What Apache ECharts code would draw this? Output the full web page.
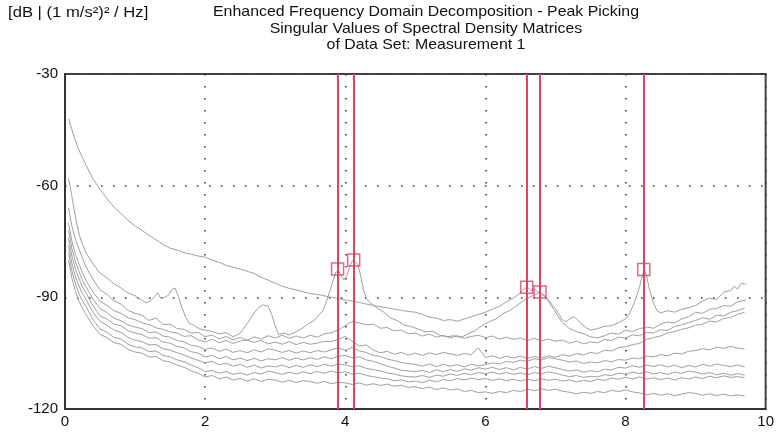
<!DOCTYPE html>
<html>
<head>
<meta charset="utf-8">
<script src="https://cdn.jsdelivr.net/npm/echarts@6/dist/echarts.min.js"></script>
<style>
html,body{margin:0;padding:0;background:#fff;}
#c{width:777px;height:434px;}
</style>
</head>
<body>
<div id="c"></div>
<script>
// ---------- DATA ----------
const titleLines = ["Enhanced Frequency Domain Decomposition - Peak Picking","Singular Values of Spectral Density Matrices","of Data Set: Measurement 1"];
const unitLabel = "[dB | (1 m/s\u00B2)\u00B2 / Hz]";
const xTicks = [0,2,4,6,8,10];
const yTicks = [-120,-90,-60,-30];

// picked peaks [Hz, dB]
const peakFreqs = [3.89, 4.12, 6.59, 6.78, 8.26];
const peakValues = [-82.4, -80.0, -87.3, -88.6, -82.5];

// shared frequency grid for the lower singular values
const freq = [0.05,0.1,0.15,0.2,0.25,0.3,0.4,0.5,0.6,0.7,0.8,0.9,1.0,1.1,1.2,1.3,1.4,1.5,1.6,1.7,1.8,1.9,2.0,2.1,2.2,2.3,2.4,2.5,2.6,2.7,2.8,2.9,3.0,3.1,3.2,3.3,3.4,3.5,3.6,3.7,3.8,3.9,4.0,4.1,4.2,4.3,4.4,4.5,4.6,4.7,4.8,4.9,5.0,5.1,5.2,5.3,5.4,5.5,5.6,5.7,5.8,5.9,6.0,6.1,6.2,6.3,6.4,6.5,6.6,6.7,6.8,6.9,7.0,7.1,7.2,7.3,7.4,7.5,7.6,7.7,7.8,7.9,8.0,8.1,8.2,8.3,8.4,8.5,8.6,8.7,8.8,8.9,9.0,9.1,9.2,9.3,9.4,9.5,9.6,9.7];

// first two singular values, [Hz, dB]
const svA = [[0.05,-42],[0.1,-45],[0.15,-48],[0.2,-50.5],[0.25,-52.5],[0.3,-54.5],[0.4,-58.2],[0.5,-61],[0.6,-63.5],[0.7,-65.8],[0.8,-67.5],[0.9,-69.3],[1.0,-70.8],[1.1,-72],[1.2,-73.4],[1.3,-74.5],[1.4,-75.8],[1.5,-76.8],[1.6,-77.3],[1.7,-78],[1.8,-78.4],[1.9,-78.9],[2.0,-79.2],[2.1,-80],[2.2,-80.6],[2.3,-81.4],[2.4,-81.9],[2.5,-82.4],[2.6,-83],[2.7,-83.6],[2.8,-84.6],[2.9,-85.4],[3.0,-86.2],[3.1,-87],[3.2,-87.6],[3.3,-88],[3.4,-88.5],[3.5,-89],[3.6,-89.2],[3.7,-89.6],[3.8,-90],[3.9,-90.3],[4.0,-90.7],[4.1,-91],[4.2,-91.4],[4.3,-91.8],[4.4,-92.2],[4.5,-92.5],[4.6,-92.8],[4.7,-93.2],[4.8,-93.5],[4.9,-93.8],[5.0,-94],[5.1,-94.6],[5.2,-95.3],[5.3,-95.6],[5.4,-96.2],[5.5,-96],[5.6,-96.4],[5.7,-95.8],[5.8,-95.2],[5.9,-94.6],[6.0,-94],[6.1,-93.2],[6.2,-92.4],[6.3,-91.2],[6.4,-90.2],[6.5,-88.8],[6.55,-87.8],[6.6,-87.3],[6.65,-88.2],[6.7,-87.8],[6.75,-88.6],[6.8,-89.2],[6.88,-90.2],[6.95,-92],[7.0,-93],[7.05,-94.5],[7.1,-96],[7.15,-96.6],[7.2,-95.8],[7.27,-95.2],[7.35,-96.8],[7.45,-98.3],[7.5,-98.8],[7.6,-98.4],[7.7,-97.8],[7.8,-97.6],[7.9,-96.8],[8.0,-95.8],[8.05,-94.6],[8.1,-92.6],[8.15,-90.2],[8.2,-87.2],[8.24,-84],[8.27,-82.6],[8.3,-84.2],[8.34,-87.8],[8.4,-91.6],[8.45,-93.6],[8.5,-94.2],[8.6,-93.6],[8.7,-94],[8.8,-93.2],[8.9,-92.8],[9.0,-92.2],[9.1,-91],[9.2,-90.2],[9.3,-90.6],[9.4,-88.6],[9.5,-88.2],[9.55,-87],[9.6,-87.8],[9.65,-86.2],[9.7,-86.5],[9.72,-86.2]];

const svB = [[0.05,-58],[0.1,-63],[0.15,-68.5],[0.2,-73],[0.25,-75.8],[0.3,-78],[0.35,-79.5],[0.4,-81],[0.5,-83.5],[0.6,-84.8],[0.7,-86.4],[0.8,-87.5],[0.9,-88.8],[1.0,-89.6],[1.1,-90.8],[1.16,-91.5],[1.22,-90.9],[1.28,-89.8],[1.32,-88.8],[1.37,-90.3],[1.42,-90],[1.48,-89.4],[1.53,-87.8],[1.57,-87.5],[1.62,-89.8],[1.67,-92.8],[1.72,-95.2],[1.77,-96.9],[1.85,-97.6],[1.92,-98.5],[2.0,-98.8],[2.1,-99.2],[2.2,-99.8],[2.3,-99.5],[2.4,-100.6],[2.5,-99.6],[2.58,-97.6],[2.64,-96],[2.7,-94.2],[2.76,-92.8],[2.82,-92],[2.9,-92.4],[2.95,-94.6],[3.0,-97.6],[3.05,-100],[3.12,-99.6],[3.2,-100.1],[3.29,-99.3],[3.38,-98.4],[3.48,-97],[3.56,-96.2],[3.62,-94.8],[3.68,-93.6],[3.73,-91.2],[3.78,-88.4],[3.83,-85.2],[3.87,-83.2],[3.9,-82.8],[3.94,-84],[3.98,-85.4],[4.02,-84.2],[4.06,-82],[4.1,-80.2],[4.14,-80.4],[4.18,-81.2],[4.22,-84.2],[4.26,-88],[4.3,-90.2],[4.35,-91.4],[4.45,-92.8],[4.55,-94],[4.65,-95.6],[4.75,-96.3],[4.85,-97.5],[4.95,-97.9],[5.05,-98.6],[5.15,-99.3],[5.25,-99.1],[5.35,-100.2],[5.45,-100.6],[5.55,-100.3],[5.65,-100.8],[5.75,-99.8],[5.85,-99],[5.95,-97.6],[6.05,-96.6],[6.15,-95.8],[6.25,-94.4],[6.35,-93.5],[6.45,-92.2],[6.55,-90.8],[6.65,-89.8],[6.72,-89.2],[6.78,-88.6],[6.84,-89.4],[6.9,-91],[6.96,-92.8],[7.02,-94.6],[7.1,-96.8],[7.2,-98.4],[7.3,-99.2],[7.4,-99.8],[7.5,-100.6],[7.6,-100.9],[7.7,-100.3],[7.8,-99.6],[7.9,-99.9],[8.0,-98.8],[8.1,-99.2],[8.2,-98.4],[8.3,-98],[8.4,-98.3],[8.5,-97.2],[8.6,-96.6],[8.7,-96.9],[8.8,-95.8],[8.9,-95.2],[9.0,-94],[9.1,-94.3],[9.2,-93.2],[9.3,-93],[9.4,-92.2],[9.5,-92.4],[9.6,-91.2],[9.72,-90.7]];

// remaining singular values on the shared grid (dB)
const svC = [-66,-71,-74.5,-77,-79.5,-81.8,-85.2,-88,-89.2,-91,-91.8,-93.5,-94.3,-94.8,-96.2,-95.6,-97.3,-97.2,-98.4,-98.6,-99.6,-99.4,-100.6,-100.1,-101.2,-100.5,-101.4,-100.8,-101.5,-100.6,-101.2,-100.3,-100.9,-100.2,-101,-100.4,-100.9,-100.2,-100.7,-99.8,-99.5,-98.8,-97.6,-96.5,-96.9,-97.4,-97.2,-98.3,-98.1,-99,-98.8,-99.8,-99.6,-100.4,-99.9,-100.7,-100.2,-100.9,-100.3,-101,-100.5,-100.2,-100.8,-100.4,-101.2,-100.7,-101.3,-100.9,-101.6,-101,-101.7,-101.2,-101.8,-101.5,-102.3,-101.8,-102.5,-102,-102.2,-101.3,-101.6,-100.7,-100.9,-100.1,-100.3,-99.4,-99.6,-98.7,-98.9,-97.8,-97.4,-96.8,-96.2,-95.5,-95.9,-94.8,-95,-94,-93.6,-92.9];
const svD = [-70,-75,-78.5,-81,-83.5,-85.5,-88.6,-91,-92.2,-93.6,-94.3,-95.5,-96,-96.9,-97.3,-98.2,-98.6,-99.3,-99.6,-100.5,-100.3,-101.4,-102,-101.3,-102.2,-101.6,-102.4,-101.7,-101.5,-102.1,-101.6,-102.5,-102,-102.6,-101.9,-102.7,-102.1,-102.6,-102.3,-101.8,-101.9,-101.3,-100.5,-101.8,-103.1,-102.8,-104.2,-104.9,-104.5,-105.3,-104.8,-105.5,-105,-105.6,-104.9,-105.4,-104.8,-105.2,-105.6,-105.1,-105.4,-103.6,-106.2,-105.7,-106.4,-105.8,-106.3,-105.8,-106.4,-105.9,-106.3,-105.7,-106.1,-105.4,-105.8,-105.1,-105.5,-104.8,-105.1,-104.2,-104.4,-103.5,-103.3,-102.7,-102.4,-101.3,-100.8,-100.4,-99.6,-99.2,-98.6,-98.2,-97.5,-97.2,-96.4,-96.6,-95.7,-95.4,-94.6,-94];
const svE = [-72,-77,-80.5,-83,-85.5,-87.2,-90.5,-93,-94.1,-95.6,-96.3,-97.4,-98,-98.4,-99.5,-99.3,-100.4,-100.7,-101.6,-102,-102.9,-103.2,-104,-103.6,-104.5,-103.9,-104.8,-104.3,-104.9,-104.1,-104.7,-103.8,-104.2,-104.8,-104.3,-105,-104.4,-104.9,-104.3,-104.7,-104.1,-103.6,-104.2,-103.4,-104.4,-104.8,-105.6,-105.9,-106.6,-107,-107.5,-107.8,-108,-108.5,-107.9,-108.6,-108,-108.5,-108.1,-108.7,-108,-108.4,-108.1,-107.6,-107.9,-107.2,-107.5,-106.9,-107.2,-106.5,-106.8,-106.2,-106.5,-106.9,-107.4,-107.1,-107.8,-107.4,-107.6,-107,-107.3,-106.7,-106.9,-106.3,-106.5,-105.8,-106,-105.4,-105.7,-105,-105.2,-104.5,-104.3,-103.8,-104.1,-103.4,-103.7,-103.2,-103.6,-103.9];
const svF = [-74,-79,-82.5,-85,-87.2,-88.8,-92.3,-95,-95.8,-97.2,-97.6,-99,-99.6,-100,-101,-100.8,-102,-102.3,-103.2,-103.6,-104.6,-105,-106,-105.6,-106.5,-105.9,-106.8,-106.3,-107,-106.4,-107.1,-106.5,-106.8,-106.2,-106.9,-106.3,-106.8,-106.2,-106.7,-106,-106.5,-105.8,-105.6,-106.2,-106,-106.8,-107.2,-107.8,-108.5,-109,-109.6,-109.8,-110,-109.6,-110.2,-109.5,-110,-109.4,-109.9,-109.2,-109.6,-108.9,-109.3,-108.8,-109.4,-108.9,-109.5,-108.8,-109.3,-108.6,-109.1,-108.5,-108.9,-109.4,-109.8,-109.5,-110.1,-109.7,-110,-109.3,-109.5,-108.8,-109,-108.4,-108.8,-108.2,-108.6,-108.1,-108.7,-108.2,-108.9,-108.3,-108.7,-108,-108.5,-107.9,-108.3,-108.6,-108.2,-108.7];
const svG = [-76,-81,-84.5,-87,-89,-90.6,-94,-96.5,-97.5,-98.8,-99.4,-100.8,-101.5,-101.9,-102.8,-102.7,-103.8,-104.2,-104.9,-105.5,-106.3,-106.9,-107.6,-107.2,-108.1,-107.7,-108.5,-108,-108.8,-108.2,-109,-108.4,-108.7,-108.2,-108.9,-108.3,-108.8,-108.1,-108.6,-108,-108.5,-107.9,-108.2,-108.6,-108.4,-109.1,-109.4,-109.8,-110.3,-110.6,-111.1,-111.3,-111.4,-111,-111.5,-110.9,-111.2,-110.6,-111,-110.4,-110.8,-110.2,-110.5,-110.1,-110.6,-110.2,-110.7,-110.3,-110.8,-110.2,-110.6,-110,-110.4,-110.9,-111.3,-111,-111.5,-111.2,-111.4,-110.8,-111,-110.4,-110.6,-110.1,-110.5,-110,-110.6,-110.2,-110.7,-110.1,-110.4,-109.8,-110.1,-110.6,-110.2,-110.8,-110.4,-110.9,-110.5,-110.9];
const svH = [-78,-83,-86.5,-89,-91,-92.5,-96,-98.5,-99.4,-100.8,-101.2,-102.6,-103.3,-103.6,-104.6,-104.4,-105.6,-106,-106.8,-107.3,-108.2,-108.9,-110,-109.6,-110.4,-109.9,-110.7,-110.3,-110.9,-110.2,-110.6,-109.8,-110.2,-110.7,-110.1,-110.6,-110,-110.5,-109.9,-110.4,-109.8,-110.3,-110,-110.6,-110.4,-111,-111.3,-111.7,-111.9,-112.4,-112.2,-112.7,-112.5,-112.9,-112.3,-112.7,-112.1,-112.4,-111.8,-112.2,-111.7,-112.1,-111.8,-112.3,-111.9,-112.4,-112,-112.5,-112,-112.4,-111.9,-112.3,-112,-112.5,-112.2,-112.7,-112.3,-112.6,-112,-112.3,-111.7,-112,-111.5,-111.9,-111.4,-112,-111.6,-112.1,-111.7,-112.2,-111.6,-111.9,-111.4,-111.8,-111.2,-111.6,-111.1,-111.5,-111.3,-111.6];
const svI = [-80,-85,-88.5,-91,-93,-94.6,-97.6,-100,-100.8,-102.2,-102.6,-104,-104.7,-105,-106,-105.9,-107,-107.4,-108.2,-108.8,-109.7,-110.4,-111.4,-111,-111.9,-111.4,-112.2,-111.8,-112.5,-111.9,-112.6,-112,-112.2,-112.8,-112.3,-112.9,-112.4,-112.6,-113.1,-112.6,-113.2,-112.8,-113,-113.4,-113,-113.6,-113.2,-113.7,-113.3,-113.9,-113.6,-114.2,-114,-114.5,-114.1,-114.8,-114.3,-114.9,-114.6,-115.3,-115,-115.6,-115.4,-115.8,-115.3,-115.6,-115,-115.3,-114.7,-115.1,-114.6,-115,-114.7,-115.2,-115.5,-115.9,-115.5,-115.8,-115.3,-115.6,-115,-115.3,-114.9,-115.4,-115.7,-116.2,-115.8,-116.3,-115.9,-116.4,-116,-115.6,-115.8,-116.3,-115.9,-116.4,-116,-116.5,-116.2,-116.5];

// ---------- CHART ----------
const GRAY = '#a0a0a0';
const RED = '#e4405f';
const FONT = 'Liberation Sans, Arial, sans-serif';

function onGrid(vals){ return freq.map((f,i)=>[f, vals[i]]).filter(p=>p[1]!==undefined); }
function lineSeries(data){
  return {type:'line', data:data, showSymbol:false, symbol:'none', silent:true,
    lineStyle:{color:GRAY, width:1}, z:2};
}

const series = [svA, svB, onGrid(svC), onGrid(svD), onGrid(svE), onGrid(svF), onGrid(svG), onGrid(svH), onGrid(svI)].map(lineSeries);

series.push({
  type:'scatter', data: peakFreqs.map((f,i)=>[f, peakValues[i]]),
  symbol:'rect', symbolSize:12, silent:true, z:5,
  itemStyle:{color:'rgba(0,0,0,0)', borderColor:RED, borderWidth:1.5},
  markLine:{silent:true, symbol:'none', animation:false,
    label:{show:false},
    lineStyle:{color:RED, width:2, type:'solid'},
    data: peakFreqs.map(f=>({xAxis:f}))}
});

const chart = echarts.init(document.getElementById('c'), null, {renderer:'canvas'});
chart.setOption({
  animation:false,
  backgroundColor:'#fff',
  textStyle:{fontFamily:FONT},
  graphic:[
    {type:'text', x:8, y:5, scaleX:1.11,
     style:{text:unitLabel, font:'15px '+FONT, fill:'#111', align:'left', verticalAlign:'top'}},
    {type:'text', x:426, y:4, scaleX:1.06,
     style:{text:titleLines.join('\n'), font:'15px '+FONT, fill:'#111', align:'center', verticalAlign:'top', lineHeight:16.5}}
  ],
  grid:{left:65, right:7, top:74, bottom:25, show:true, borderColor:'#444', borderWidth:2, backgroundColor:'#fff'},
  xAxis:{type:'value', min:0, max:10, interval:2,
    axisLine:{show:true, lineStyle:{color:'#333', width:2}},
    axisTick:{show:false},
    axisLabel:{color:'#111', fontSize:15, margin:5, fontFamily:FONT},
    splitLine:{show:true, lineStyle:{color:'#333', width:1.5, type:[1.5,10.5]}}
  },
  yAxis:{type:'value', min:-120, max:-30, interval:30,
    axisLine:{show:true, lineStyle:{color:'#333', width:2}},
    axisTick:{show:false},
    axisLabel:{color:'#111', fontSize:15, margin:7, fontFamily:FONT},
    splitLine:{show:true, lineStyle:{color:'#333', width:1.5, type:[1.5,10.5]}}
  },
  series:series
});
</script>
</body>
</html>
